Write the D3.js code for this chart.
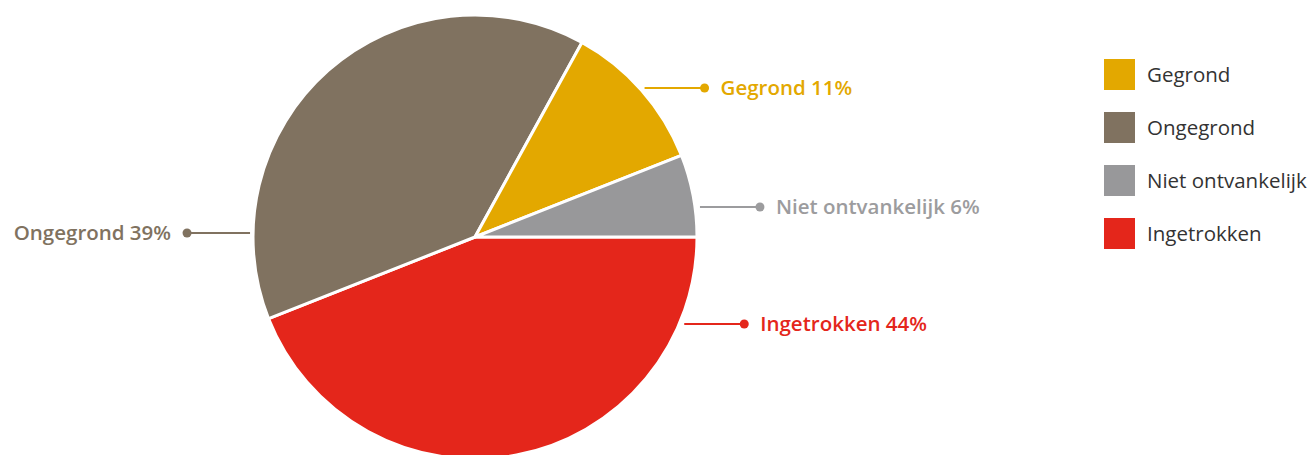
<!DOCTYPE html>
<html><head><meta charset="utf-8">
<script src="https://cdn.jsdelivr.net/npm/d3@7"></script>
<style>html,body{margin:0;padding:0;background:#fff;}svg{display:block;}</style>
</head><body>
<svg id="chart" width="1314" height="455"></svg>
<script>
// Data
const categories = ["Gegrond", "Ongegrond", "Niet ontvankelijk", "Ingetrokken"];
const values = [11, 39, 6, 44];
const colors = ["#E3A800", "#807260", "#98989A", "#E4261B"];
const labelColors = ["#E3A800", "#807260", "#9C9C9E", "#E4261B"];
// drawing order of the slices, clockwise from 3 o'clock
const pieOrder = ["Ingetrokken", "Ongegrond", "Gegrond", "Niet ontvankelijk"];
// label rows (vertical position)
const labelY = {"Gegrond": 88, "Ongegrond": 233, "Niet ontvankelijk": 207, "Ingetrokken": 324};

const svg = d3.select("#chart");
const cx = 475, cy = 237, R = 222;
const font = "'Open Sans', 'Noto Sans', sans-serif";

const data = pieOrder.map(n => ({name: n, value: values[categories.indexOf(n)]}));
const pie = d3.pie().sort(null).value(d => d.value)
  .startAngle(Math.PI / 2).endAngle(Math.PI / 2 + 2 * Math.PI);
const arc = d3.arc().innerRadius(0).outerRadius(R);
const color = d3.scaleOrdinal().domain(categories).range(colors);
const lcolor = d3.scaleOrdinal().domain(categories).range(labelColors);

const g = svg.append("g").attr("transform", `translate(${cx},${cy})`);
g.selectAll("path").data(pie(data)).join("path")
  .attr("d", arc)
  .attr("fill", d => color(d.data.name))
  .attr("stroke", "#fff").attr("stroke-width", 3).attr("stroke-linejoin", "round");

// labels
const lab = svg.append("g");
pie(data).forEach(d => {
  const mid = (d.startAngle + d.endAngle) / 2;
  const side = Math.sin(mid) >= 0 ? 1 : -1;
  const y = labelY[d.data.name];
  const dy = y - cy;
  const edge = cx + side * (Math.sqrt(R * R - dy * dy) + (side > 0 ? 5 : 3));
  const end = edge + side * (side > 0 ? 60 : 63);
  const c = lcolor(d.data.name);
  lab.append("line").attr("x1", edge).attr("x2", end).attr("y1", y).attr("y2", y)
    .attr("stroke", c).attr("stroke-width", 2);
  lab.append("circle").attr("cx", end).attr("cy", y).attr("r", 4.5).attr("fill", c);
  lab.append("text").attr("x", end + side * 16).attr("y", y).attr("dy", "0.35em")
    .attr("text-anchor", side > 0 ? "start" : "end")
    .attr("fill", c).attr("font-family", font).attr("font-weight", 600).attr("font-size", 20.5)
    .text(`${d.data.name} ${d.data.value}%`);
});

// legend
const leg = svg.append("g").attr("transform", "translate(1104,59)");
categories.forEach((n, i) => {
  const row = leg.append("g").attr("transform", `translate(0,${i * 53})`);
  row.append("rect").attr("width", 31).attr("height", 31).attr("fill", color(n));
  row.append("text").attr("x", 43).attr("y", 15.5).attr("dy", "0.35em")
    .attr("fill", "#333").attr("font-family", font).attr("font-size", 20.5).text(n);
});
</script>
</body></html>
